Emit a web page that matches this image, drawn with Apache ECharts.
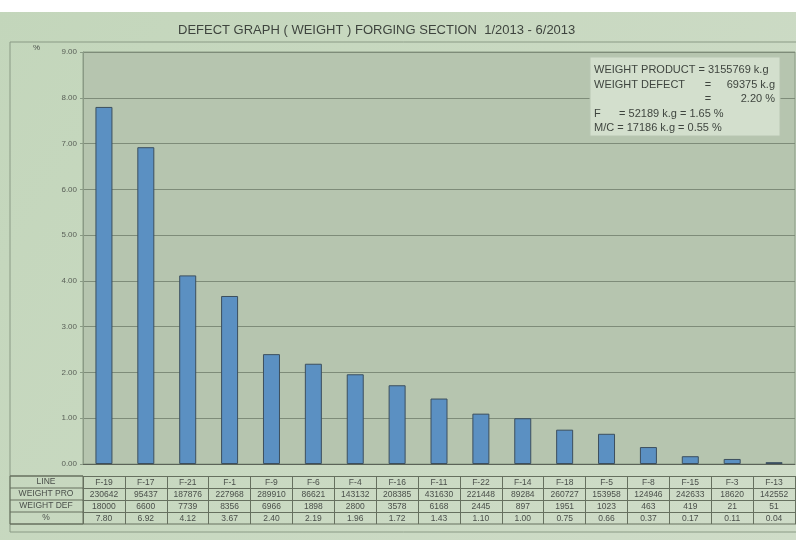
<!DOCTYPE html>
<html>
<head>
<meta charset="utf-8">
<script src="https://cdn.jsdelivr.net/npm/echarts@6/dist/echarts.min.js"></script>
<style>
html, body { margin: 0; padding: 0; }
#chart { width: 796px; height: 540px; }
</style>
</head>
<body>
<div id="chart"></div>
<script>
var lines = ['F-19', 'F-17', 'F-21', 'F-1', 'F-9', 'F-6', 'F-4', 'F-16', 'F-11', 'F-22', 'F-14', 'F-18', 'F-5', 'F-8', 'F-15', 'F-3', 'F-13'];
var weightPro = [230642, 95437, 187876, 227968, 289910, 86621, 143132, 208385, 431630, 221448, 89284, 260727, 153958, 124946, 242633, 18620, 142552];
var weightDef = [18000, 6600, 7739, 8356, 6966, 1898, 2800, 3578, 6168, 2445, 897, 1951, 1023, 463, 419, 21, 51];
var percent = [7.80, 6.92, 4.12, 3.67, 2.40, 2.19, 1.96, 1.72, 1.43, 1.10, 1.00, 0.75, 0.66, 0.37, 0.17, 0.11, 0.04];
var rowNames = ['LINE', 'WEIGHT PRO', 'WEIGHT DEF', '%'];
// summary box: [left text, middle text, right text]
var summary = [
	['WEIGHT PRODUCT = 3155769 k.g', '', ''],
	['WEIGHT DEFECT', '=', '69375 k.g'],
	['', '=', '2.20 %'],
	['F      = 52189 k.g = 1.65 %', '', ''],
	['M/C = 17186 k.g = 0.55 %', '', '']
];

var textColor = '#4a4f4a';
var lineColor = '#66705f';
var rowH = 12;

function tableAxis(rowIndex, values) {
	return {
		type: 'category',
		gridIndex: 0,
		position: 'bottom',
		offset: 12 + rowIndex * rowH,
		data: values,
		axisLine: { show: true, lineStyle: { color: lineColor, width: 1 } },
		axisTick: { show: true, length: rowH, lineStyle: { color: lineColor } },
		axisLabel: { show: true, interval: 0, margin: 2, fontSize: 8.5, color: textColor, fontFamily: 'Liberation Sans' },
		splitLine: { show: false }
	};
}

var chart = echarts.init(document.getElementById('chart'));

var graphics = [
	{ type: 'rect', shape: { x: 0, y: 0, width: 796, height: 12 }, style: { fill: '#ffffff' }, z: -1 },
	{ type: 'rect', shape: { x: 10, y: 42, width: 790, height: 490 }, style: { fill: 'none', stroke: '#8a9a85', lineWidth: 1 }, z: -1 },
	{ type: 'text', left: 33, top: 44, style: { text: '%', fontSize: 8, fill: textColor, fontFamily: 'Liberation Sans' } },
	{ type: 'rect', shape: { x: 590, y: 57, width: 190, height: 79 }, style: { fill: '#d3dfcd', stroke: '#b8c6b2' }, z: 5 },
	{ type: 'rect', shape: { x: 10, y: 476, width: 73, height: rowH * 4 }, style: { fill: 'none', stroke: lineColor, lineWidth: 1 }, z: 5 },
	{ type: 'line', shape: { x1: 10, y1: 524, x2: 796, y2: 524 }, style: { stroke: lineColor, lineWidth: 1 }, z: 5 }
];
for (var i = 0; i < rowNames.length; i++) {
	graphics.push({ type: 'line', shape: { x1: 10, y1: 476 + i * rowH, x2: 83, y2: 476 + i * rowH }, style: { stroke: lineColor }, z: 5 });
	graphics.push({
		type: 'text', x: 46, y: 476 + i * rowH + 6, z: 6,
		style: { text: rowNames[i], fontSize: 8.5, fill: textColor, align: 'center', verticalAlign: 'middle', fontFamily: 'Liberation Sans' }
	});
}
for (var j = 0; j < summary.length; j++) {
	var ty = 70 + j * 14.5;
	var parts = [[594, 'left'], [708, 'center'], [775, 'right']];
	for (var k = 0; k < 3; k++) {
		if (!summary[j][k]) continue;
		graphics.push({
			type: 'text', x: parts[k][0], y: ty, z: 6,
			style: { text: summary[j][k], fontSize: 11, fill: '#3e443e', align: parts[k][1], verticalAlign: 'middle', fontFamily: 'Liberation Sans' }
		});
	}
}

var option = {
	animation: false,
	backgroundColor: {
		type: 'linear', x: 0, y: 0, x2: 1, y2: 1,
		colorStops: [{ offset: 0, color: '#c3d6bb' }, { offset: 1, color: '#cfdcc8' }]
	},
	title: {
		text: 'DEFECT GRAPH ( WEIGHT ) FORGING SECTION  1/2013 - 6/2013',
		left: 173,
		top: 19,
		textStyle: { fontSize: 13, fontWeight: 'normal', color: '#3e443e', fontFamily: 'Liberation Sans' }
	},
	grid: {
		left: 83,
		right: 1,
		top: 52,
		bottom: 76,
		show: true,
		backgroundColor: '#b6c5af',
		borderColor: '#8a9a85',
		borderWidth: 1
	},
	xAxis: [
		{
			type: 'category',
			data: lines,
			axisLine: { lineStyle: { color: '#5b6358' } },
			axisTick: { show: false },
			axisLabel: { show: false }
		},
		tableAxis(0, lines),
		tableAxis(1, weightPro),
		tableAxis(2, weightDef),
		tableAxis(3, percent.map(function (v) { return v.toFixed(2); }))
	],
	yAxis: {
		type: 'value',
		min: 0,
		max: 9,
		interval: 1,
		axisLine: { show: true, lineStyle: { color: '#8a9a85' } },
		axisTick: { show: true, length: 3, lineStyle: { color: '#8a9a85' } },
		axisLabel: {
			fontSize: 8,
			color: '#5a6058',
			margin: 6,
			fontFamily: 'Liberation Sans',
			formatter: function (v) { return v.toFixed(2); }
		},
		splitLine: { lineStyle: { color: '#7e8c79', width: 1 } }
	},
	series: [
		{
			name: '%',
			type: 'bar',
			xAxisIndex: 0,
			data: percent,
			barWidth: 17,
			itemStyle: { color: '#5b90c2', borderColor: '#3c4f5e', borderWidth: 1 }
		}
	],
	graphic: graphics
};

chart.setOption(option);
</script>
</body>
</html>
